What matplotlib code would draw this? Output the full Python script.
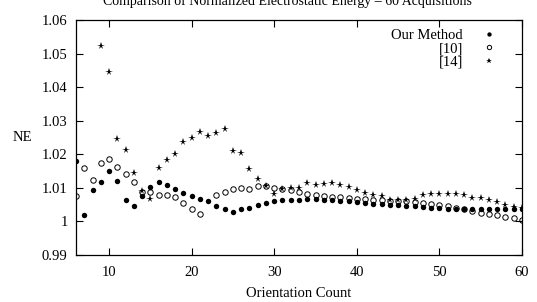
import numpy as np
import matplotlib
matplotlib.use("Agg")
import matplotlib.pyplot as plt

plt.rcParams['font.family'] = ['Liberation Serif', 'DejaVu Serif']
plt.rcParams['mathtext.fontset'] = 'stix'

title = "Comparison of Normalized Electrostatic Energy \u2013 60 Acquisitions"
x_label = "Orientation Count"
y_label = "NE"
series_labels = ["Our Method", "[10]", "[14]"]

orientation = list(range(6, 61))

our_method = [
    1.0180, 1.0020, 1.0095, 1.0118, 1.0150, 1.0120, 1.0063, 1.0045, 1.0075, 1.0102,
    1.0118, 1.0108, 1.0098, 1.0085, 1.0075, 1.0067, 1.0061, 1.0046, 1.0036, 1.0028,
    1.0036, 1.0041, 1.0048, 1.0055, 1.0061, 1.0063, 1.0064, 1.0065, 1.0066, 1.0066,
    1.0065, 1.0064, 1.0062, 1.0060, 1.0057, 1.0054, 1.0053, 1.0052, 1.0050, 1.0049,
    1.0047, 1.0045, 1.0042, 1.0040, 1.0039, 1.0038, 1.0038, 1.0038, 1.0038, 1.0038,
    1.0038, 1.0038, 1.0038, 1.0038, 1.0038,
]

ref10 = [
    1.0075, 1.0158, 1.0123, 1.0173, 1.0185, 1.0162, 1.0142, 1.0118, 1.0088, 1.0088,
    1.0078, 1.0078, 1.0072, 1.0055, 1.0038, 1.0022, np.nan, 1.0080, 1.0088, 1.0098,
    1.0099, 1.0097, 1.0105, 1.0105, 1.0100, 1.0097, 1.0093, 1.0088, 1.0083, 1.0080,
    1.0076, 1.0074, 1.0072, 1.0070, 1.0068, 1.0066, 1.0064, 1.0064, 1.0062, 1.0060,
    1.0060, 1.0059, 1.0055, 1.0051, 1.0048, 1.0046, 1.0041, 1.0037, 1.0031, 1.0026,
    1.0023, 1.0019, 1.0012, 1.0009, 1.0003,
]

ref14 = [
    np.nan, np.nan, np.nan, 1.0522, 1.0444, 1.0245, 1.0212, 1.0145, 1.0092, 1.0068,
    1.0160, 1.0183, 1.0200, 1.0238, 1.0248, 1.0265, 1.0255, 1.0263, 1.0275, 1.0210,
    1.0203, 1.0155, 1.0125, 1.0105, 1.0081, 1.0096, 1.0099, 1.0100, 1.0114, 1.0110,
    1.0112, 1.0114, 1.0108, 1.0103, 1.0095, 1.0086, 1.0080, 1.0076, 1.0065, 1.0063,
    1.0063, 1.0067, 1.0078, 1.0081, 1.0083, 1.0081, 1.0081, 1.0078, 1.0071, 1.0070,
    1.0065, 1.0057, 1.0050, 1.0043, 1.0039,
]

x_ticks = [10, 20, 30, 40, 50, 60]
y_ticks = [0.99, 1.00, 1.01, 1.02, 1.03, 1.04, 1.05, 1.06]
y_tick_labels = ["0.99", "1", "1.01", "1.02", "1.03", "1.04", "1.05", "1.06"]

W, H = 537, 302
fig = plt.figure(figsize=(W / 100, H / 100), dpi=100)
ax = fig.add_axes([76 / W, 1 - 255 / H, (522 - 76) / W, (255 - 20) / H])

fs = 10.5
ax.plot(orientation, ref14, linestyle='none', marker='*', markersize=5.4,
        color='black', markeredgewidth=0, label=series_labels[2], zorder=2)
ax.plot(orientation, our_method, linestyle='none', marker='o', markersize=3.9,
        color='black', markeredgewidth=0, label=series_labels[0], zorder=3)
ax.plot(orientation, ref10, linestyle='none', marker='o', markersize=3.9,
        markerfacecolor='none', markeredgecolor='black', markeredgewidth=0.7,
        label=series_labels[1], zorder=4)

ax.set_xlim(6, 60)
ax.set_ylim(0.99, 1.06)
ax.set_xticks(x_ticks)
ax.set_yticks(y_ticks)
ax.set_yticklabels(y_tick_labels)
ax.tick_params(direction='in', length=5, width=0.8, top=True, right=True,
               labelsize=fs, colors='black')
ax.tick_params(axis='x', pad=8)
ax.tick_params(axis='y', pad=6)
for s in ax.spines.values():
    s.set_linewidth(0.9)

ax.set_xlabel(x_label, fontsize=fs, labelpad=6)
ax.set_ylabel(y_label, fontsize=fs, rotation=0, va='center', ha='center')
ax.yaxis.set_label_coords(-(76 - 22) / (522 - 76), 0.5)

fig.text(103 / W, 1 - 4.5 / H, title, fontsize=10, ha='left', va='baseline')

handles, labels = ax.get_legend_handles_labels()
order = [1, 2, 0]
leg = ax.legend([handles[i] for i in order], [labels[i] for i in order],
                loc='upper right', bbox_to_anchor=((496 - 76) / 446, (255 - 29) / 235),
                frameon=False, markerfirst=False, numpoints=1, fontsize=fs,
                handlelength=1.0, handletextpad=1.28, labelspacing=0.0,
                markerscale=0.8, borderpad=0, borderaxespad=0)

fig.savefig("out.png", dpi=100)
